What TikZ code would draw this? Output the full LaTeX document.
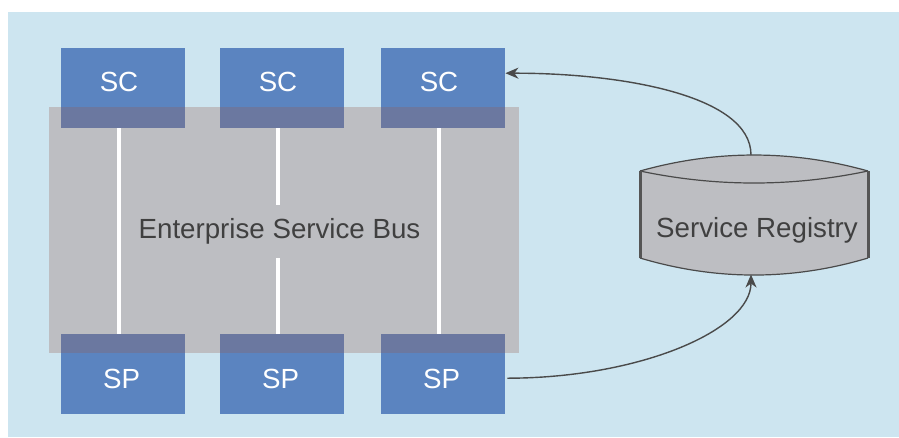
\documentclass[tikz,border=0pt]{standalone}
\usepackage{fontspec}
\setmainfont{Liberation Sans}
\usetikzlibrary{arrows.meta}
\definecolor{bgblue}{HTML}{CDE5F0}
\definecolor{boxblue}{HTML}{5B84C0}
\definecolor{ovl}{HTML}{6B78A0}
\definecolor{esbgray}{HTML}{BDBEC2}
\definecolor{txtgray}{HTML}{404040}
\definecolor{linegray}{HTML}{4A4A4A}
\definecolor{sidegray}{HTML}{555555}
\begin{document}
\begin{tikzpicture}[x=1pt,y=-1pt,
  boxsty/.style={fill=boxblue, draw=none, inner sep=0, minimum width=124pt, minimum height=80pt, anchor=north west},
  ovlsty/.style={fill=ovl},
  lbl/.style={text=white, font=\fontsize{27.7}{33}\selectfont, inner sep=0, anchor=base},
  graylbl/.style={text=txtgray, font=\fontsize{27.7}{33}\selectfont, inner sep=0, anchor=base},
  wline/.style={draw=white, line width=4pt},
  conn/.style={draw=linegray, line width=1.4pt, -{Stealth[length=13pt,width=11pt,inset=4pt]}},
  arcsty/.style={draw=linegray, line width=1.2pt},
  sidesty/.style={draw=sidegray, line width=3pt}
]
\useasboundingbox (0,0) rectangle (899,437);
\fill[bgblue] (8,12) rectangle (899,437);
% bus
\node[fill=esbgray, inner sep=0, minimum width=470pt, minimum height=246pt, anchor=north west] (esb) at (49,107) {};
\node[graylbl, text height=33pt, text depth=20pt] (esblbl) at (279.5,238) {Enterprise Service Bus};
% boxes
\node[boxsty] (sc1) at (61,48) {};
\node[boxsty] (sc2) at (220,48) {};
\node[boxsty] (sc3) at (381,48) {};
\node[boxsty] (sp1) at (61,334) {};
\node[boxsty] (sp2) at (220,334) {};
\node[boxsty] (sp3) at (381,334) {};
% overlaps
\foreach \b in {sc1,sc2,sc3} {
  \fill[ovlsty] (\b.south west) rectangle (\b.east |- esb.north);
}
\foreach \b in {sp1,sp2,sp3} {
  \fill[ovlsty] (\b.north west) rectangle (\b.east |- esb.south);
}
% white links
\draw[wline] ([xshift=-4pt]sc1.south) -- ([xshift=-4pt]sp1.north);
\draw[wline] ([xshift=-4pt]sc2.south) -- ([xshift=-4pt]sc2.south |- esblbl.north);
\draw[wline] ([xshift=-4pt]sp2.north |- esblbl.south) -- ([xshift=-4pt]sp2.north);
\draw[wline] ([xshift=-4pt]sc3.south) -- ([xshift=-4pt]sp3.north);
% labels
\node[lbl] (scl1) at (119,91) {SC};
\node[lbl] (scl2) at (278,91) {SC};
\node[lbl] (scl3) at (439,91) {SC};
\node[lbl] (spl1) at (121.5,388) {SP};
\node[lbl] (spl2) at (280.5,388) {SP};
\node[lbl] (spl3) at (441.5,388) {SP};
% registry cylinder
\fill[esbgray] (640,171) .. controls (716,149.7) and (792,149.7) .. (868,171) -- (868,258) .. controls (792,280.7) and (716,280.7) .. (640,258) -- cycle;
\draw[arcsty] (640,171) .. controls (716,149.7) and (792,149.7) .. (868,171);
\draw[arcsty] (640,171) .. controls (716,187) and (792,187) .. (868,171);
\draw[arcsty] (640,258) .. controls (716,280.7) and (792,280.7) .. (868,258);
\draw[sidesty] (640,171) -- (640,258);
\draw[sidesty] (868,171) -- (868,258);
\node[graylbl] (reg) at (757,237) {Service Registry};
\coordinate (regtop) at (751,155);
\coordinate (regbot) at (751,274.5);
% connectors
\draw[conn] (regtop) .. controls (751,95) and (620,73) .. ([yshift=15pt]sc3.east);
\draw[conn] ([xshift=2pt,yshift=-4pt]sp3.east) .. controls (640,378) and (751,330) .. (regbot);
\end{tikzpicture}
\end{document}
